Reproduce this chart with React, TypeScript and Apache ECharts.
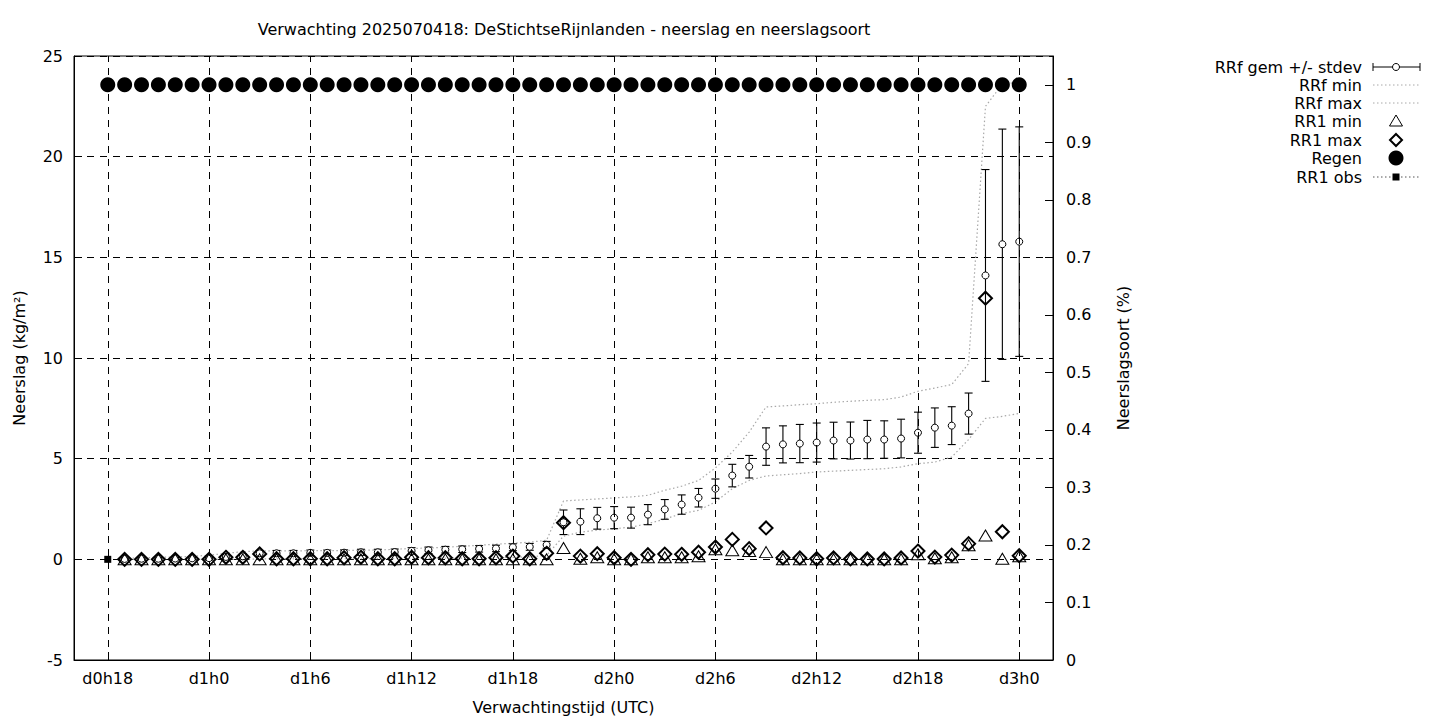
import React, { useEffect, useRef } from "react";
import * as echarts from "echarts";

const TITLE = "Verwachting 2025070418: DeStichtseRijnlanden - neerslag en neerslagsoort";
const X_NAME = "Verwachtingstijd (UTC)";
const Y_NAME = "Neerslag (kg/m²)";
const Y2_NAME = "Neerslagsoort (%)";

const hours = [
  19, 20, 21, 22, 23, 24, 25, 26, 27, 28, 29, 30, 31, 32, 33, 34, 35, 36,
  37, 38, 39, 40, 41, 42, 43, 44, 45, 46, 47, 48, 49, 50, 51, 52, 53, 54,
  55, 56, 57, 58, 59, 60, 61, 62, 63, 64, 65, 66, 67, 68, 69, 70, 71, 72,
];

const rrfMean = [
  0.02, 0.03, 0.03, 0.04, 0.05, 0.06, 0.12, 0.15, 0.3, 0.3, 0.3, 0.32, 0.32, 0.33, 0.35, 0.35, 0.36, 0.42,
  0.45, 0.48, 0.5, 0.52, 0.54, 0.6, 0.62, 0.72, 1.84, 1.87, 2.04, 2.07, 2.07, 2.22, 2.48, 2.72, 3.06, 3.51,
  4.16, 4.6, 5.6, 5.71, 5.75, 5.8, 5.9, 5.9, 5.95, 5.95, 6.0, 6.29, 6.54, 6.64, 7.24, 14.1, 15.65, 15.78,
];

const rrfStdev = [
  0.02, 0.03, 0.03, 0.04, 0.05, 0.06, 0.1, 0.12, 0.14, 0.14, 0.14, 0.14, 0.14, 0.14, 0.15, 0.15, 0.15, 0.16,
  0.16, 0.16, 0.16, 0.16, 0.16, 0.17, 0.17, 0.17, 0.61, 0.64, 0.54, 0.55, 0.52, 0.5, 0.49, 0.48, 0.46, 0.48,
  0.56, 0.56, 0.93, 0.92, 0.95, 0.97, 0.91, 0.92, 0.95, 0.93, 0.96, 1.02, 0.98, 0.94, 1.02, 5.26, 5.72, 5.7,
];

const rrfMin = [
  0, 0, 0, 0, 0, 0, 0, 0, 0.02, 0.02, 0.02, 0.03, 0.03, 0.03, 0.03, 0.04, 0.04, 0.05,
  0.05, 0.06, 0.06, 0.07, 0.08, 0.1, 0.12, 0.2, 1.15, 1.35, 1.45, 1.52, 1.6, 1.77, 2.0, 2.27, 2.43, 2.85,
  3.51, 3.92, 4.14, 4.2, 4.26, 4.34, 4.38, 4.42, 4.46, 4.5, 4.59, 4.75, 4.83, 5.08, 5.95, 7.0, 7.1, 7.25,
];

const rrfMax = [
  0.05, 0.08, 0.1, 0.12, 0.15, 0.2, 0.3, 0.38, 0.42, 0.42, 0.42, 0.43, 0.43, 0.44, 0.45, 0.46, 0.5, 0.54,
  0.56, 0.6, 0.65, 0.7, 0.75, 0.8, 0.85, 0.95, 2.9, 2.95, 3.0, 3.05, 3.1, 3.18, 3.43, 3.63, 3.92, 4.54,
  5.33, 6.32, 7.57, 7.62, 7.68, 7.73, 7.8, 7.85, 7.9, 7.93, 8.06, 8.35, 8.51, 8.68, 9.72, 22.5, 23.6, 23.7,
];

const rr1Min = [
  0, 0, 0, 0, 0, 0, 0, 0, 0, 0, 0, 0, 0, 0, 0, 0, 0, 0,
  0, 0, 0, 0, 0, 0, 0, 0, 0.56, 0.03, 0.1, 0, 0, 0.1, 0.1, 0.1, 0.15, 0.5,
  0.45, 0.41, 0.36, 0, 0, 0, 0, 0, 0, 0, 0, 0.25, 0.05, 0.1, 0.7, 1.18, 0.03, 0.15,
];

const rr1Max = [
  0, 0, 0, 0, 0, 0, 0.1, 0.1, 0.27, 0.03, 0.03, 0.03, 0.03, 0.08, 0.1, 0.03, 0.03, 0.1,
  0.08, 0.08, 0.03, 0.03, 0.08, 0.16, 0.03, 0.3, 1.82, 0.16, 0.28, 0.08, 0.0, 0.23, 0.26, 0.25, 0.35, 0.61,
  0.99, 0.53, 1.56, 0.08, 0.07, 0.03, 0.07, 0.02, 0.02, 0.02, 0.07, 0.41, 0.11, 0.21, 0.78, 12.97, 1.37, 0.18,
];

const regenHours = [
  18, 19, 20, 21, 22, 23, 24, 25, 26, 27, 28, 29, 30, 31, 32, 33, 34, 35, 36,
  37, 38, 39, 40, 41, 42, 43, 44, 45, 46, 47, 48, 49, 50, 51, 52, 53, 54,
  55, 56, 57, 58, 59, 60, 61, 62, 63, 64, 65, 66, 67, 68, 69, 70, 71, 72,
];
const regenValues = [
  1, 1, 1, 1, 1, 1, 1, 1, 1, 1, 1, 1, 1, 1, 1, 1, 1, 1, 1,
  1, 1, 1, 1, 1, 1, 1, 1, 1, 1, 1, 1, 1, 1, 1, 1, 1, 1,
  1, 1, 1, 1, 1, 1, 1, 1, 1, 1, 1, 1, 1, 1, 1, 1, 1, 1,
];

const obsHours = [18];
const obsValues = [0];

const xTickHours = [18, 24, 30, 36, 42, 48, 54, 60, 66, 72];
const y2Ticks = [0, 0.1, 0.2, 0.3, 0.4, 0.5, 0.6, 0.7, 0.8, 0.9, 1];

const LEGEND_NAMES = ["RRf gem +/- stdev", "RRf min", "RRf max", "RR1 min", "RR1 max", "Regen", "RR1 obs"];

const FONT = "DejaVu Sans";
const FS = 16;
const DASH = [7, 6];
const GREY_DOT = "#a8a8a8";

function hourLabel(v: number): string {
  const d = Math.floor(v / 24);
  const h = v % 24;
  return `d${d}h${h}`;
}

function buildLegend() {
  const rowsY = [67, 85, 103, 121, 140, 158, 177];
  const textRight = 1362;
  const sx1 = 1373;
  const sx2 = 1420;
  const cx = 1396;
  const items: any[] = [];
  LEGEND_NAMES.forEach((name, i) => {
    items.push({
      type: "text",
      x: textRight,
      y: rowsY[i],
      style: {
        text: name,
        fill: "#000",
        font: `${FS}px "${FONT}"`,
        textAlign: "right",
        textVerticalAlign: "middle",
      },
    });
  });
  const y0 = rowsY[0];
  items.push({ type: "line", shape: { x1: sx1, y1: y0, x2: sx2, y2: y0 }, style: { stroke: "#000", lineWidth: 1 } });
  items.push({ type: "line", shape: { x1: sx1, y1: y0 - 4, x2: sx1, y2: y0 + 4 }, style: { stroke: "#000", lineWidth: 1 } });
  items.push({ type: "line", shape: { x1: sx2, y1: y0 - 4, x2: sx2, y2: y0 + 4 }, style: { stroke: "#000", lineWidth: 1 } });
  items.push({ type: "circle", shape: { cx, cy: y0, r: 3.5 }, style: { fill: "#fff", stroke: "#000", lineWidth: 1 } });
  [1, 2].forEach((i) => {
    items.push({
      type: "line",
      shape: { x1: sx1, y1: rowsY[i], x2: sx2, y2: rowsY[i] },
      style: { stroke: GREY_DOT, lineWidth: 1, lineDash: [1.5, 2.5] },
    });
  });
  const ty = rowsY[3];
  items.push({
    type: "polygon",
    shape: { points: [[cx - 6.5, ty + 5], [cx + 6.5, ty + 5], [cx, ty - 6]] },
    style: { fill: "none", stroke: "#000", lineWidth: 1 },
  });
  const dy = rowsY[4];
  items.push({
    type: "polygon",
    shape: { points: [[cx, dy - 6], [cx + 6, dy], [cx, dy + 6], [cx - 6, dy]] },
    style: { fill: "none", stroke: "#000", lineWidth: 2 },
  });
  items.push({ type: "circle", shape: { cx, cy: rowsY[5], r: 7.5 }, style: { fill: "#000" } });
  const oy = rowsY[6];
  items.push({
    type: "line",
    shape: { x1: sx1, y1: oy, x2: sx2, y2: oy },
    style: { stroke: "#555", lineWidth: 1, lineDash: [1.5, 2.5] },
  });
  items.push({ type: "rect", shape: { x: cx - 3.5, y: oy - 3.5, width: 7, height: 7 }, style: { fill: "#000" } });
  return items;
}

export default function App() {
  const ref = useRef<HTMLDivElement>(null);

  useEffect(() => {
    if (!ref.current) return;
    const chart = echarts.init(ref.current, undefined, { renderer: "svg" });

    const errData = hours.map((h, i) => [h, rrfMean[i], rrfStdev[i]]);
    const meanData = hours.map((h, i) => [h, rrfMean[i]]);
    const minData = hours.map((h, i) => [h, rrfMin[i]]);
    const maxData = hours.map((h, i) => [h, rrfMax[i]]);
    const rr1MinData = hours.map((h, i) => [h, rr1Min[i]]);
    const rr1MaxData = hours.map((h, i) => [h, rr1Max[i]]);
    const regenData = regenHours.map((h, i) => [h, regenValues[i]]);
    const obsData = obsHours.map((h, i) => [h, obsValues[i]]);

    const axisText = { color: "#000", fontSize: FS, fontFamily: FONT };

    const option: any = {
      animation: false,
      textStyle: { fontFamily: FONT },
      title: {
        text: TITLE,
        left: 559,
        top: 16,
        textAlign: "center",
        textStyle: { fontSize: FS, fontWeight: "normal", color: "#000", fontFamily: FONT },
      },
      grid: {
        left: 74,
        right: 387,
        top: 56,
        bottom: 60,
        show: true,
        borderColor: "#000",
        borderWidth: 1,
        backgroundColor: "transparent",
      },
      xAxis: {
        type: "value",
        min: 16,
        max: 74,
        name: X_NAME,
        nameLocation: "middle",
        nameGap: 39,
        nameTextStyle: axisText,
        axisLine: { show: true, onZero: false, lineStyle: { color: "#000", width: 1 } },
        axisTick: { show: true, inside: true, length: 8, customValues: xTickHours, lineStyle: { color: "#000" } },
        axisLabel: { customValues: xTickHours, formatter: (v: number) => hourLabel(v), margin: 10, ...axisText },
        splitLine: { show: false },
      },
      yAxis: [
        {
          type: "value",
          min: -5,
          max: 25,
          interval: 5,
          name: Y_NAME,
          nameLocation: "middle",
          nameGap: 47,
          nameRotate: 90,
          nameTextStyle: axisText,
          axisLine: { show: true, onZero: false, lineStyle: { color: "#000", width: 1 } },
          axisTick: { show: true, inside: true, length: 8, lineStyle: { color: "#000" } },
          axisLabel: { margin: 11, ...axisText },
          splitLine: { show: true, lineStyle: { color: "#000", type: DASH, width: 1 } },
        },
        {
          type: "value",
          min: 0,
          max: 1.05,
          position: "right",
          name: Y2_NAME,
          nameLocation: "middle",
          nameGap: 62,
          nameRotate: 90,
          nameTextStyle: axisText,
          axisLine: { show: true, onZero: false, lineStyle: { color: "#000", width: 1 } },
          axisTick: { show: true, inside: true, length: 8, customValues: y2Ticks, lineStyle: { color: "#000" } },
          axisLabel: { customValues: y2Ticks, margin: 13, ...axisText },
          splitLine: { show: false },
        },
      ],
      graphic: buildLegend(),
      series: [
        {
          type: "custom",
          name: LEGEND_NAMES[0],
          xAxisIndex: 0,
          yAxisIndex: 0,
          data: errData,
          encode: { x: 0, y: 1 },
          z: 3,
          renderItem: (_params: any, api: any) => {
            const x = api.value(0);
            const m = api.value(1);
            const s = api.value(2);
            const top = api.coord([x, m + s]);
            const bot = api.coord([x, m - s]);
            const w = 4;
            const st = { stroke: "#000", lineWidth: 1.1 };
            return {
              type: "group",
              children: [
                { type: "line", shape: { x1: top[0], y1: top[1], x2: bot[0], y2: bot[1] }, style: st },
                { type: "line", shape: { x1: top[0] - w, y1: top[1], x2: top[0] + w, y2: top[1] }, style: st },
                { type: "line", shape: { x1: bot[0] - w, y1: bot[1], x2: bot[0] + w, y2: bot[1] }, style: st },
              ],
            };
          },
          markLine: {
            silent: true,
            symbol: "none",
            label: { show: false },
            lineStyle: { color: "#000", type: DASH, width: 1 },
            data: xTickHours.map((h) => ({ xAxis: h })),
          },
        },
        {
          type: "scatter",
          name: LEGEND_NAMES[0] + " mean",
          data: meanData,
          symbol: "circle",
          symbolSize: 7,
          z: 4,
          itemStyle: { color: "#fff", borderColor: "#000", borderWidth: 1, opacity: 1 },
        },
        {
          type: "line",
          name: LEGEND_NAMES[1],
          data: minData,
          showSymbol: false,
          z: 2,
          lineStyle: { color: GREY_DOT, width: 1.2, type: [1.5, 2.5] },
        },
        {
          type: "line",
          name: LEGEND_NAMES[2],
          data: maxData,
          showSymbol: false,
          z: 2,
          lineStyle: { color: GREY_DOT, width: 1.2, type: [1.5, 2.5] },
        },
        {
          type: "scatter",
          name: LEGEND_NAMES[3],
          data: rr1MinData,
          symbol: "triangle",
          symbolSize: [13, 11],
          z: 5,
          itemStyle: { color: "transparent", borderColor: "#000", borderWidth: 1, opacity: 1 },
        },
        {
          type: "scatter",
          name: LEGEND_NAMES[4],
          data: rr1MaxData,
          symbol: "diamond",
          symbolSize: 13,
          z: 6,
          itemStyle: { color: "transparent", borderColor: "#000", borderWidth: 2, opacity: 1 },
        },
        {
          type: "scatter",
          name: LEGEND_NAMES[5],
          yAxisIndex: 1,
          data: regenData,
          symbol: "circle",
          symbolSize: 15,
          z: 7,
          itemStyle: { color: "#000", opacity: 1 },
        },
        {
          type: "line",
          name: LEGEND_NAMES[6],
          data: obsData,
          symbol: "rect",
          symbolSize: 7,
          showSymbol: true,
          z: 8,
          itemStyle: { color: "#000", opacity: 1 },
          lineStyle: { color: "#555", width: 1, type: [1.5, 2.5] },
        },
      ],
    };

    chart.setOption(option);
    return () => chart.dispose();
  }, []);

  return (
    <div
      ref={ref}
      style={{ position: "fixed", left: 0, top: 0, width: 1440, height: 720, background: "#fff" }}
    />
  );
}
